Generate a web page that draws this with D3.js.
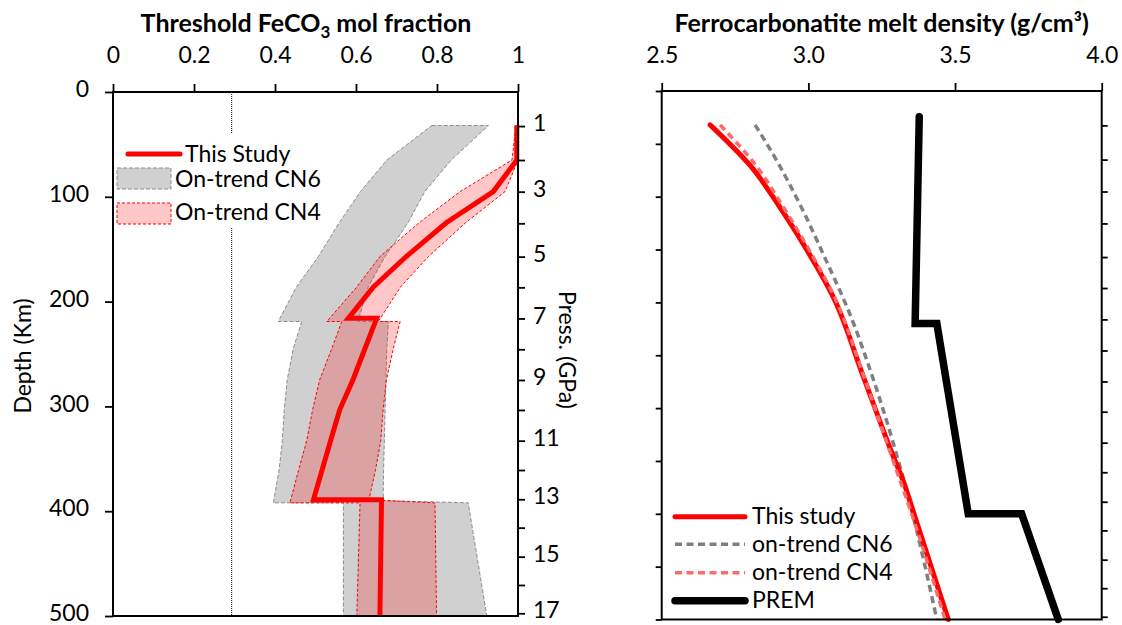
<!DOCTYPE html>
<html>
<head>
<meta charset="utf-8">
<script src="https://cdn.jsdelivr.net/npm/d3@7"></script>
<style>
  body { margin: 0; background: #fff; }
  svg { display: block; }
  text { font-family: Lato, "Open Sans", sans-serif; fill: #000; }
</style>
</head>
<body>
<svg id="chart" width="1122" height="625"></svg>
<script>
// ---------- axes ----------
const fracTicks = [0, 0.2, 0.4, 0.6, 0.8, 1];
const depthTicks = [0, 100, 200, 300, 400, 500];
const depthMinorTicks = [0, 50, 100, 150, 200, 250, 300, 350, 400, 450, 500];
const densityTicks = [2.5, 3.0, 3.5, 4.0];
// pressure (GPa) and the depth (km) it corresponds to
const pressureGPa = [1, 2, 3, 4, 5, 6, 7, 8, 9, 10, 11, 12, 13, 14, 15, 16, 17];
const pressureDepthKm = [32.5, 64.9, 95.1, 125.3, 157.1, 186.4, 216.1, 245.5, 274.8, 303.4, 332.7, 360.7, 388.6, 415.7, 443.4, 470.4, 497.4];

// ---------- left panel: threshold FeCO3 fraction vs depth ----------
const fixedFraction = 0.293;

const studyDepth = [32, 65, 95, 125, 157, 186, 216, 216, 245, 275, 303, 333, 361, 389, 389, 500];
const studyFrac  = [0.997, 0.997, 0.939, 0.822, 0.724, 0.643, 0.581, 0.651, 0.622, 0.592, 0.560, 0.537, 0.516, 0.495, 0.663, 0.659];

// envelope outlines: high-fraction edge downwards, then low-fraction edge upwards
const cn6Depth = [32, 32, 65, 95, 125, 157, 186, 219, 219, 245, 275, 303, 333, 361, 390, 392, 500,
                  500, 392, 392, 361, 333, 303, 275, 245, 219, 219, 186, 157, 125, 95, 65];
const cn6Frac  = [0.787, 0.927, 0.835, 0.770, 0.728, 0.672, 0.630, 0.605, 0.680, 0.676, 0.674, 0.672, 0.670, 0.668, 0.667, 0.877, 0.923,
                  0.569, 0.569, 0.396, 0.410, 0.418, 0.423, 0.430, 0.445, 0.466, 0.408, 0.453, 0.507, 0.558, 0.611, 0.676];

const cn4Depth = [32, 32, 65, 95, 125, 157, 186, 219, 219, 245, 275, 303, 333, 361, 389, 392, 500,
                  500, 392, 392, 361, 333, 303, 275, 245, 219, 219, 186, 157, 125, 95, 65];
const cn4Frac  = [0.995, 1.0, 1.0, 0.968, 0.870, 0.779, 0.710, 0.655, 0.709, 0.692, 0.675, 0.667, 0.661, 0.648, 0.632, 0.795, 0.799,
                  0.602, 0.610, 0.437, 0.458, 0.478, 0.493, 0.510, 0.540, 0.565, 0.528, 0.602, 0.659, 0.755, 0.857, 0.985];

// ---------- right panel: melt density vs depth ----------
const studyDensDepth = [32, 70, 110, 150, 195, 270, 346, 368, 400, 500];
const studyDensity   = [2.665, 2.800, 2.903, 2.994, 3.085, 3.187, 3.290, 3.322, 3.360, 3.477];

const cn4DensDepth = [32, 70, 110, 150, 195, 270, 346, 400, 500];
const cn4Density   = [2.699, 2.820, 2.915, 3.002, 3.089, 3.189, 3.284, 3.352, 3.466];

const cn6DensDepth = [32, 60, 100, 160, 210, 270, 368, 500];
const cn6Density   = [2.818, 2.880, 2.958, 3.060, 3.140, 3.218, 3.325, 3.438];

const premDepth   = [24.4, 220, 220, 400, 400, 500];
const premDensity = [3.378, 3.364, 3.438, 3.545, 3.727, 3.852];

// ---------- drawing ----------
const svg = d3.select("#chart");
const FS = 23;

const L = { left: 113, right: 518, top: 92, bottom: 616 };
const R = { left: 661.7, right: 1101.7, top: 91, bottom: 619.5 };

const xL = d3.scaleLinear().domain([0, 1]).range([L.left, L.right]);
const yL = d3.scaleLinear().domain([0, 500]).range([L.top, L.bottom]);
const xR = d3.scaleLinear().domain([2.5, 4.0]).range([R.left, R.right]);
const yR = d3.scaleLinear().domain([0, 500]).range([R.top, R.bottom]);

const pressL = d3.scaleLinear().domain(pressureGPa).range(pressureDepthKm.map(yL));
const pressR = d3.scaleLinear().domain(pressureGPa).range(pressureDepthKm.map(yR));

function styleAxis(g, fontSize, dy) {
  g.select(".domain").remove();
  g.selectAll(".tick line").attr("stroke", "#000").attr("stroke-width", 1.8);
  const t = g.selectAll(".tick text").attr("font-size", fontSize)
    .attr("font-family", "Lato, sans-serif").attr("fill", "#000");
  if (dy) t.attr("dy", dy);
}

// ===== left panel =====
const gL = svg.append("g");

// grey envelope (CN6)
gL.append("path")
  .attr("d", d3.line()(cn6Frac.map((f, i) => [xL(f), yL(cn6Depth[i])])) + "Z")
  .attr("fill", "#d0d0d0")
  .attr("stroke", "#8c8c8c").attr("stroke-width", 1).attr("stroke-dasharray", "4,2");

// pink envelope (CN4)
gL.append("path")
  .attr("d", d3.line()(cn4Frac.map((f, i) => [xL(f), yL(cn4Depth[i])])) + "Z")
  .attr("fill", "rgba(255,0,0,0.22)")
  .attr("stroke", "#ff0000").attr("stroke-width", 1).attr("stroke-dasharray", "3,2");

// this study threshold line
gL.append("path")
  .attr("d", d3.line()(studyFrac.map((f, i) => [xL(f), yL(studyDepth[i])])))
  .attr("fill", "none").attr("stroke", "#ff0000").attr("stroke-width", 5)
  .attr("stroke-linejoin", "miter");

// fixed fraction dotted line
gL.append("line")
  .attr("x1", xL(fixedFraction)).attr("x2", xL(fixedFraction))
  .attr("y1", L.top).attr("y2", L.bottom)
  .attr("stroke", "#000").attr("stroke-width", 1).attr("stroke-dasharray", "1,1");

// legend
const legL = gL.append("g");
legL.append("rect").attr("x", 115).attr("y", 133).attr("width", 213).attr("height", 94).attr("fill", "#fff");
legL.append("line").attr("x1", 128).attr("x2", 180).attr("y1", 154).attr("y2", 154)
  .attr("stroke", "#ff0000").attr("stroke-width", 5).attr("stroke-linecap", "round");
legL.append("text").attr("x", 185).attr("y", 161.5).attr("font-size", FS).text("This Study");
legL.append("rect").attr("x", 117).attr("y", 168).attr("width", 54).attr("height", 21)
  .attr("fill", "#d0d0d0").attr("stroke", "#8c8c8c").attr("stroke-width", 1).attr("stroke-dasharray", "4,2");
legL.append("text").attr("x", 175).attr("y", 187.3).attr("font-size", FS).text("On-trend CN6");
legL.append("rect").attr("x", 117).attr("y", 203).attr("width", 54).attr("height", 21)
  .attr("fill", "rgba(255,0,0,0.22)").attr("stroke", "#ff0000").attr("stroke-width", 1).attr("stroke-dasharray", "3,2");
legL.append("text").attr("x", 175).attr("y", 220).attr("font-size", FS).text("On-trend CN4");

// frame
gL.append("rect").attr("x", L.left).attr("y", L.top)
  .attr("width", L.right - L.left).attr("height", L.bottom - L.top)
  .attr("fill", "none").attr("stroke", "#000").attr("stroke-width", 2);

// axes
gL.append("g").attr("transform", `translate(0,${L.top})`)
  .call(d3.axisTop(xL).tickValues(fracTicks).tickSize(8).tickPadding(21).tickFormat(d3.format("")))
  .call(g => styleAxis(g, FS));
gL.append("g").attr("transform", `translate(${L.left},0)`)
  .call(d3.axisLeft(yL).tickValues(depthTicks).tickSize(8).tickPadding(16))
  .call(g => styleAxis(g, FS, "0.2em"));
gL.append("g").attr("transform", `translate(${L.right},0)`)
  .call(d3.axisRight(pressL).tickValues(pressureGPa).tickSize(7).tickPadding(8)
    .tickFormat(p => p % 2 === 1 ? p : ""))
  .call(g => styleAxis(g, FS, "0.2em"));

// titles
const tL = svg.append("text").attr("x", 306).attr("y", 32).attr("text-anchor", "middle")
  .attr("font-size", 25).attr("font-weight", "bold");
tL.append("tspan").text("Threshold FeCO");
tL.append("tspan").attr("dy", 6).attr("font-size", 17).text("3");
tL.append("tspan").attr("dy", -6).text(" mol fraction");

svg.append("text").attr("transform", `translate(31,${(yL(200) + yL(300)) / 2 + 2}) rotate(-90)`)
  .attr("text-anchor", "middle").attr("font-size", FS).text("Depth (Km)");
svg.append("text").attr("transform", `translate(559,350) rotate(90)`)
  .attr("text-anchor", "middle").attr("font-size", FS).text("Press. (GPa)");

// ===== right panel =====
const gR = svg.append("g");
const densLine = (dep, den) => d3.line().curve(d3.curveMonotoneY)(den.map((v, i) => [xR(v), yR(dep[i])]));

gR.append("path").attr("d", densLine(cn6DensDepth, cn6Density))
  .attr("fill", "none").attr("stroke", "#808080").attr("stroke-width", 3.5).attr("stroke-dasharray", "7,4.5");
gR.append("path").attr("d", densLine(studyDensDepth, studyDensity))
  .attr("fill", "none").attr("stroke", "#ff0000").attr("stroke-width", 5).attr("stroke-linecap", "round");
gR.append("path").attr("d", densLine(cn4DensDepth, cn4Density))
  .attr("fill", "none").attr("stroke", "#ff6b6b").attr("stroke-width", 3.5).attr("stroke-dasharray", "7,4.5");
gR.append("path")
  .attr("d", d3.line()(premDensity.map((v, i) => [xR(v), yR(premDepth[i])])))
  .attr("fill", "none").attr("stroke", "#000").attr("stroke-width", 7.5)
  .attr("stroke-linecap", "round").attr("stroke-linejoin", "miter");

// legend
const legR = gR.append("g");
const legItems = [
  { label: "This study",   color: "#ff0000", width: 5,   dash: null,    y: 516.7 },
  { label: "on-trend CN6", color: "#808080", width: 3.5, dash: "7,4.5", y: 544.3 },
  { label: "on-trend CN4", color: "#ff6b6b", width: 3.5, dash: "7,4.5", y: 572.7 },
  { label: "PREM",         color: "#000",    width: 7.5, dash: null,    y: 600.7 }
];
legItems.forEach(d => {
  const ln = legR.append("line").attr("x1", 675).attr("x2", 745).attr("y1", d.y).attr("y2", d.y)
    .attr("stroke", d.color).attr("stroke-width", d.width)
    .attr("stroke-linecap", d.dash ? "butt" : "round");
  if (d.dash) ln.attr("stroke-dasharray", d.dash);
  legR.append("text").attr("x", 752).attr("y", d.y + 7.5).attr("font-size", FS).text(d.label);
});

// frame
gR.append("rect").attr("x", R.left).attr("y", R.top)
  .attr("width", R.right - R.left).attr("height", R.bottom - R.top)
  .attr("fill", "none").attr("stroke", "#000").attr("stroke-width", 2);

gR.append("g").attr("transform", `translate(0,${R.top})`)
  .call(d3.axisTop(xR).tickValues(densityTicks).tickSize(8).tickPadding(20).tickFormat(d3.format(".1f")))
  .call(g => styleAxis(g, FS));
gR.append("g").attr("transform", `translate(${R.left},0)`)
  .call(d3.axisLeft(yR).tickValues(depthMinorTicks).tickSize(6).tickFormat(""))
  .call(g => styleAxis(g, FS));
gR.append("g").attr("transform", `translate(${R.right},0)`)
  .call(d3.axisRight(pressR).tickValues(pressureGPa).tickSize(6).tickFormat(""))
  .call(g => styleAxis(g, FS));

svg.append("text").attr("x", (R.left + R.right) / 2).attr("y", 31.5).attr("text-anchor", "middle")
  .attr("font-size", 25).attr("font-weight", "bold").text("Ferrocarbonatite melt density (g/cm³)");
</script>
</body>
</html>
